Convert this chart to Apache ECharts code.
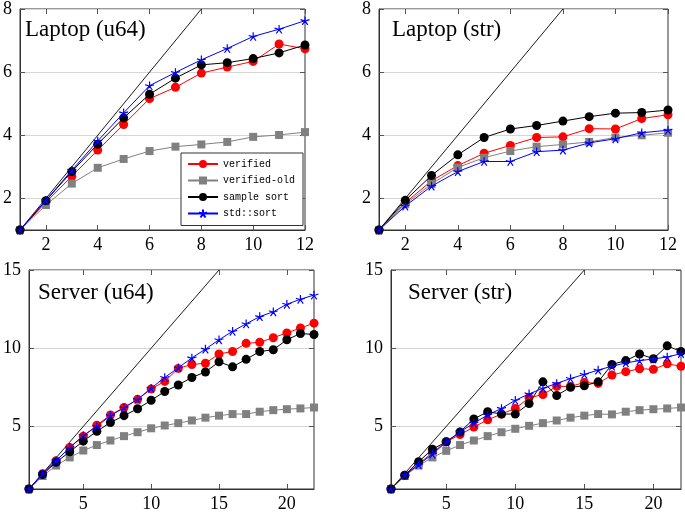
<!DOCTYPE html>
<html><head><meta charset="utf-8">
<script src="https://cdn.jsdelivr.net/npm/echarts@6/dist/echarts.min.js"></script>
<style>html,body{margin:0;padding:0;background:#fff}#c{width:685px;height:513px}</style>
</head><body><div id="c"></div>
<script>
// ---- data ----
const threadsLaptop = [1,2,3,4,5,6,7,8,9,10,11,12];
const threadsServer = [1,2,3,4,5,6,7,8,9,10,11,12,13,14,15,16,17,18,19,20,21,22];

const laptopU64Verified    = [1,1.88,2.70,3.53,4.34,5.16,5.52,5.97,6.16,6.34,6.89,6.74];
const laptopU64VerifiedOld = [1,1.79,2.47,2.97,3.25,3.50,3.64,3.71,3.79,3.95,4.01,4.10];
const laptopU64Sample      = [1,1.93,2.85,3.72,4.55,5.30,5.81,6.23,6.30,6.43,6.61,6.86];
const laptopU64Std         = [1,1.94,2.89,3.82,4.71,5.57,5.99,6.39,6.75,7.13,7.36,7.63];

const laptopStrVerified    = [1,1.86,2.56,3.04,3.43,3.68,3.93,3.95,4.21,4.20,4.53,4.65];
const laptopStrVerifiedOld = [1,1.82,2.46,2.98,3.29,3.50,3.64,3.71,3.79,3.93,4.00,4.08];
const laptopStrSample      = [1,1.94,2.73,3.38,3.93,4.20,4.31,4.45,4.59,4.70,4.72,4.80];
const laptopStrStd         = [1,1.76,2.39,2.85,3.17,3.17,3.48,3.53,3.76,3.89,4.08,4.16];

const serverU64Verified    = [1,1.98,2.81,3.65,4.37,5.08,5.73,6.21,6.73,7.40,7.88,8.71,8.96,9.04,9.63,9.79,10.31,10.38,10.67,10.98,11.29,11.60];
const serverU64VerifiedOld = [1,1.83,2.50,3.02,3.46,3.81,4.10,4.38,4.63,4.88,5.06,5.21,5.38,5.56,5.69,5.79,5.79,5.94,6.04,6.10,6.15,6.21];
const serverU64Sample      = [1,1.92,2.71,3.38,4.06,4.69,5.25,5.69,6.13,6.67,7.23,7.65,8.13,8.48,9.13,8.81,9.29,9.79,9.90,10.54,10.94,10.88];
const serverU64Std         = [1,1.98,2.81,3.65,4.42,5.00,5.69,6.19,6.73,7.44,8.13,8.75,9.38,9.94,10.54,11.08,11.56,12.02,12.33,12.81,13.13,13.40];

const serverStrVerified    = [1,1.88,2.60,3.33,4.02,4.48,4.96,5.42,5.79,6.15,6.83,7.04,7.56,7.56,7.81,7.75,8.29,8.50,8.69,8.65,9.00,8.85];
const serverStrVerifiedOld = [1,1.83,2.50,3.02,3.44,3.81,4.10,4.38,4.63,4.85,5.04,5.21,5.38,5.56,5.69,5.79,5.77,5.94,6.04,6.10,6.15,6.21];
const serverStrSample      = [1,1.88,2.75,3.54,4.02,4.65,5.48,5.94,5.79,5.79,6.46,7.85,6.98,7.50,7.60,7.85,8.96,9.21,9.63,9.33,10.15,9.79];
const serverStrStd         = [1,1.88,2.56,3.23,4.00,4.65,5.21,5.73,6.15,6.67,7.08,7.44,7.75,8.06,8.33,8.60,8.85,9.06,9.21,9.31,9.44,9.65];

const idealLaptop = [[1,1],[8,8]];
const idealServer = [[1,1],[15,15]];

const laptopXTicks = [2,4,6,8,10,12];
const laptopYTicks = [2,4,6,8];
const serverXTicks = [5,10,15,20];
const serverYTicks = [5,10,15];

const seriesNames = ['verified','verified-old','sample sort','std::sort'];
const panelTitles = ['Laptop (u64)','Laptop (str)','Server (u64)','Server (str)'];

// ---- build ----
const serif = '"Liberation Serif", "DejaVu Serif", serif';
const colors = ['#ff0000','#808080','#000000','#0000ff'];
const starPath = 'path://M0,-10L0,0M0,0L9.51,-3.09M0,0L5.88,8.09M0,0L-5.88,8.09M0,0L-9.51,-3.09';
const symbols = ['circle','rect','circle',starPath];
const symSizes = [9,8,9,9];

const panels = [
  {grid:{left:15,top:5,width:290,height:225}, x:threadsLaptop, xmax:12, ymax:8, xt:laptopXTicks, yt:laptopYTicks, ideal:idealLaptop,
   ys:[laptopU64Verified,laptopU64VerifiedOld,laptopU64Sample,laptopU64Std], title:{left:25,top:18}},
  {grid:{left:379,top:5,width:289,height:225}, x:threadsLaptop, xmax:12, ymax:8, xt:laptopXTicks, yt:laptopYTicks, ideal:idealLaptop,
   ys:[laptopStrVerified,laptopStrVerifiedOld,laptopStrSample,laptopStrStd], title:{left:392,top:18}},
  {grid:{left:24,top:270,width:290,height:224}, x:threadsServer, xmax:22, ymax:15, xt:serverXTicks, yt:serverYTicks, ideal:idealServer,
   ys:[serverU64Verified,serverU64VerifiedOld,serverU64Sample,serverU64Std], title:{left:38,top:281}},
  {grid:{left:391,top:270,width:290,height:224}, x:threadsServer, xmax:22, ymax:15, xt:serverXTicks, yt:serverYTicks, ideal:idealServer,
   ys:[serverStrVerified,serverStrVerifiedOld,serverStrSample,serverStrStd], title:{left:408,top:281}}
];

const grid=[], xAxis=[], yAxis=[], series=[], title=[];
const tick = {show:true, inside:true, length:5, lineStyle:{color:'#555', width:1}};
panels.forEach((p,i)=>{
  grid.push(Object.assign({show:true, borderColor:'#333', borderWidth:1, containLabel:false}, p.grid));
  const lab = {show:true, color:'#000', fontFamily:serif, fontSize:18, margin:6};
  xAxis.push({type:'value', gridIndex:i, min:1, max:p.xmax, position:'bottom',
    axisLine:{show:true, lineStyle:{color:'#333'}},
    axisTick:Object.assign({customValues:p.xt}, tick),
    axisLabel:Object.assign({customValues:p.xt}, lab),
    splitLine:{show:false}});
  xAxis.push({type:'value', gridIndex:i, min:1, max:p.xmax, position:'top',
    axisLine:{show:false}, axisTick:Object.assign({customValues:p.xt}, tick),
    axisLabel:{show:false}, splitLine:{show:false}});
  yAxis.push({type:'value', gridIndex:i, min:1, max:p.ymax, position:'left',
    axisLine:{show:true, lineStyle:{color:'#333'}},
    axisTick:Object.assign({customValues:p.yt}, tick),
    axisLabel:Object.assign({customValues:p.yt}, lab, {margin:8}),
    splitLine:{show:true, lineStyle:{color:'#d6d6d6', width:1}}});
  yAxis.push({type:'value', gridIndex:i, min:1, max:p.ymax, position:'right',
    axisLine:{show:false}, axisTick:Object.assign({customValues:p.yt}, tick),
    axisLabel:{show:false}, splitLine:{show:false}});
  title.push({text:panelTitles[i], left:p.title.left, top:p.title.top, padding:0,
    textStyle:{fontFamily:serif, fontSize:23, fontWeight:'normal', color:'#000'}});
  series.push({type:'line', xAxisIndex:2*i, yAxisIndex:2*i, data:p.ideal, symbol:'none',
    lineStyle:{color:'#000', width:0.9}, silent:true, z:1});
  p.ys.forEach((ys,k)=>{
    series.push({type:'line', name:seriesNames[k], xAxisIndex:2*i, yAxisIndex:2*i,
      data:p.x.map((xv,j)=>[xv, ys[j]]),
      symbol:symbols[k], symbolSize:symSizes[k], symbolKeepAspect:true,
      lineStyle:{color:colors[k], width:1},
      itemStyle:{color: k===3 ? 'rgba(0,0,0,0)' : colors[k], borderColor:colors[k], borderWidth: k===3 ? 1.2 : 0},
      z:2+k});
  });
});

const chart = echarts.init(document.getElementById('c'), null, {renderer:'canvas'});
chart.setOption({
  animation:false,
  backgroundColor:'#fff',
  title,
  grid, xAxis, yAxis, series,
  legend:{data:seriesNames, orient:'vertical', left:181, top:153, itemWidth:30, itemHeight:10, itemGap:6.5,
    padding:[6,8,7,6], borderColor:'#333', borderWidth:1, backgroundColor:'#fff',
    textStyle:{fontFamily:'"Liberation Mono", "DejaVu Sans Mono", monospace', fontSize:10, color:'#000'}, z:10}
});
</script></body></html>
